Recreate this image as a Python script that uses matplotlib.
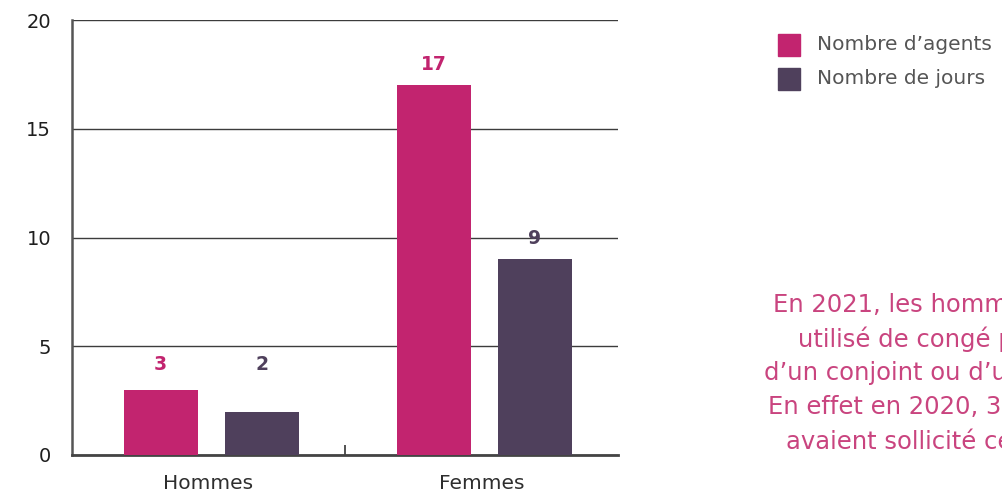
import matplotlib.pyplot as plt
import numpy as np

plt.rcParams['font.family'] = ['DejaVu Sans']

categories = ["Hommes", "Femmes"]
agents = [3, 17]
jours = [2, 9]
series_names = ["Nombre d\u2019agents", "Nombre de jours"]
note_lines = [
    "En 2021, les hommes n\u2019ont pas",
    "utilisé de congé pour maladie",
    "d\u2019un conjoint ou d\u2019un enfant.",
    "En effet en 2020, 3 hommes",
    "avaient sollicité ce congé.",
]
note_x = [773, 798, 764, 768, 786]

pink = "#c2246f"
purple = "#4f405c"
txt_pink = "#c9447f"

fig = plt.figure(figsize=(10.02, 4.95), dpi=100)
ax = fig.add_axes([72/1002, 1-455/495, 546/1002, 435/495])

x = np.arange(len(categories))
w = 0.27
off = 0.185
ax.bar(x - off + 0.01, agents, w, color=pink, zorder=3)
ax.bar(x + off + 0.01, jours, w, color=purple, zorder=3)

# value labels
for i in range(len(categories)):
    ax.text(x[i] - off + 0.01, max(agents[i], 3.2) + 0.95, str(agents[i]), ha='center', va='center',
            color=pink, fontsize=13.5, fontweight='bold')
    ax.text(x[i] + off + 0.01, max(jours[i], 3.2) + 0.95, str(jours[i]), ha='center', va='center',
            color=purple, fontsize=13.5, fontweight='bold')

ax.set_xlim(-0.5, 1.5)
ax.set_ylim(0, 20)
ax.set_yticks([0, 5, 10, 15, 20])
ax.set_xticks(x)
ax.set_xticklabels(categories)
ax.set_xticks([0.5], minor=True)
ax.tick_params(axis='x', which='major', length=0, pad=14, labelsize=14.5, labelcolor='#2e2e2e')
ax.tick_params(axis='x', which='minor', length=7, width=1.3, direction='in', color='#444444')
ax.tick_params(axis='y', length=0, pad=15, labelsize=14, labelcolor='#1e1e1e')

ax.grid(axis='y', color='#3c3c3c', linewidth=1.0, zorder=0)
for s in ['top', 'right']:
    ax.spines[s].set_visible(False)
ax.spines['left'].set_color('#555555')
ax.spines['left'].set_linewidth(1.8)
ax.spines['bottom'].set_color('#444444')
ax.spines['bottom'].set_linewidth(2)

# legend
for k, (name, col) in enumerate(zip(series_names, [pink, purple])):
    yy = 1 - (45 + 34*k)/495
    fig.patches.append(plt.Rectangle((778/1002, yy - 11/495), 22/1002, 22/495,
                                     transform=fig.transFigure, color=col))
    fig.text(817/1002, yy, name, ha='left', va='center', fontsize=14.5, color='#555555')

# note
for k, line in enumerate(note_lines):
    fig.text(note_x[k]/1002, 1 - (305 + 34*k)/495, line, ha='left', va='center',
             fontsize=17.5, color=txt_pink)

fig.savefig("out.png", dpi=100)
